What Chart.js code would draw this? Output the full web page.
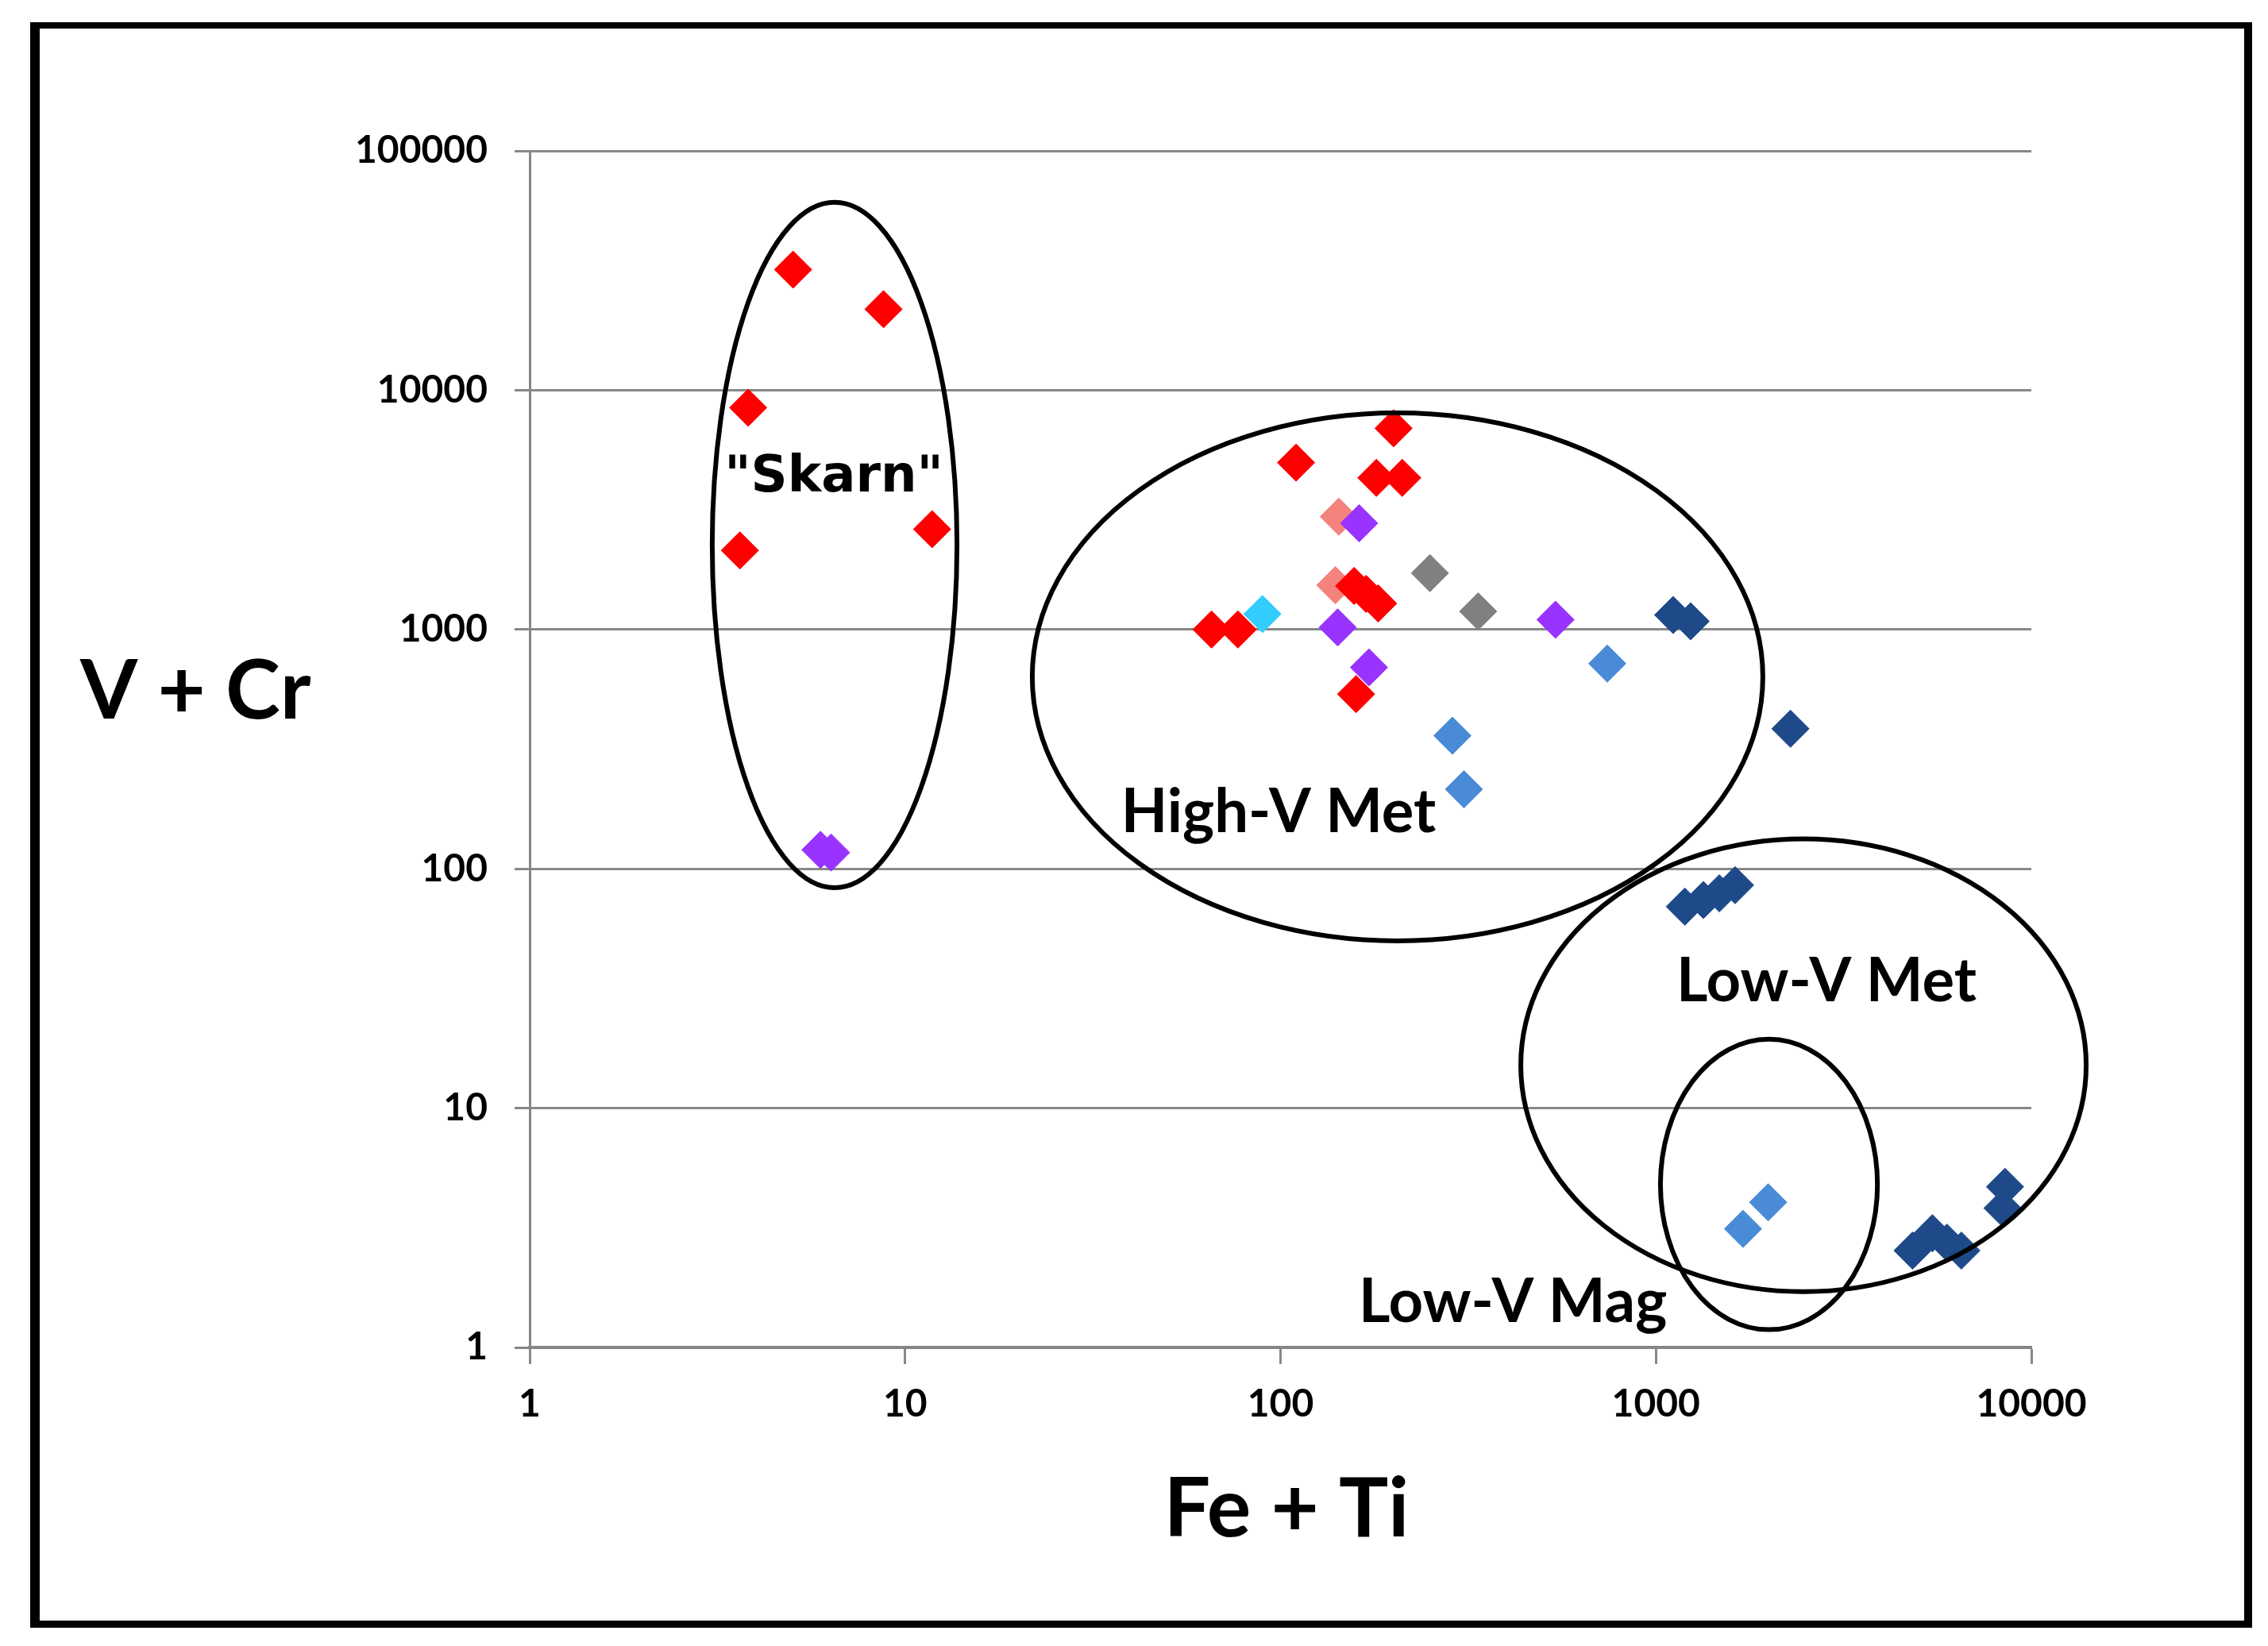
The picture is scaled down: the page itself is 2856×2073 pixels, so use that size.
<!DOCTYPE html>
<html>
<head>
<meta charset="utf-8">
<title>V + Cr vs Fe + Ti</title>
<script src="https://cdn.jsdelivr.net/npm/chart.js@4.4.1/dist/chart.umd.min.js"></script>
<style>
    html, body { margin: 0; padding: 0; background: #fff; overflow: hidden; }
    canvas { display: block; }
</style>
</head>
<body>
<canvas id="scatterChart" width="2856" height="2073"></canvas>
<script>
// Tick values of the two log axes
const xTicks = [1, 10, 100, 1000, 10000];
const yTicks = [1, 10, 100, 1000, 10000, 100000];

// Fe + Ti (x) and V + Cr (y), one pair of arrays per colour
const redX = [5.03, 8.76, 3.82, 3.63, 11.8, 110, 200, 180, 211, 157, 169, 182, 65.5, 77, 159];
const redY = [31900, 21800, 8450, 2140, 2625, 4980, 6930, 4300, 4300, 1521, 1409, 1285, 1000, 1000, 537];

const salmonX = [143, 140];
const salmonY = [2960, 1531];

const purpleX = [5.95, 6.35, 162, 142, 172, 540];
const purpleY = [120, 117, 2780, 1020, 694, 1099];

const cyanX = [89.5];
const cyanY = [1160];

const grayX = [250, 336];
const grayY = [1720, 1190];

const steelX = [742, 287, 308, 1990, 1706];
const steelY = [720, 360, 215, 4.04, 3.13];

const navyX = [1111, 1237, 2282, 1194, 1338, 1475, 1625, 4825, 5450, 5960, 6510, 8380, 8510];
const navyY = [1150, 1082, 385, 69.5, 74.1, 79, 85.4, 2.54, 3.0, 2.74, 2.54, 3.82, 4.69];

// Group outlines: centre in data units, half axes in decades
const groupNames = ['"Skarn"', 'High-V Met', 'Low-V Met', 'Low-V Mag'];
const ellipseCx = [6.49, 205, 2472, 2000];
const ellipseCy = [2254, 634, 15.1, 4.8];
const ellipseRx = [0.326, 0.973, 0.753, 0.289];
const ellipseRy = [1.432, 1.103, 0.946, 0.607];
// where each group name sits (data units, text baseline)
const labelX = [6.46, 98.8, 2846, 416];
const labelY = [3775, 142, 28, 1.28];

function toPoints(xs, ys) {
    return xs.map((x, i) => ({ x: x, y: ys[i] }));
}

function diamonds(label, xs, ys, color) {
    return {
        label: label,
        data: toPoints(xs, ys),
        pointStyle: 'rectRot',
        pointRadius: 23.5,
        pointHoverRadius: 23.5,
        backgroundColor: color,
        borderColor: color,
        borderWidth: 1
    };
}

// Frame, group outlines, group names and axis titles
const decorPlugin = {
    id: 'decor',
    beforeDraw(chart) {
        const ctx = chart.ctx;
        ctx.save();
        ctx.fillStyle = '#ffffff';
        ctx.fillRect(0, 0, chart.width, chart.height);
        ctx.fillStyle = '#000000';
        ctx.fillRect(38, 28, 12, 2022);
        ctx.fillRect(38, 28, 2798, 8);
        ctx.fillRect(2826, 28, 10, 2022);
        ctx.fillRect(38, 2041, 2798, 9);
        ctx.restore();
    },
    afterDatasetsDraw(chart) {
        const ctx = chart.ctx;
        const xs = chart.scales.x;
        const ys = chart.scales.y;
        ctx.save();
        ctx.strokeStyle = '#000000';
        ctx.lineWidth = 6;
        ellipseCx.forEach((cx, i) => {
            const px = xs.getPixelForValue(cx);
            const py = ys.getPixelForValue(ellipseCy[i]);
            const rx = xs.getPixelForValue(cx * Math.pow(10, ellipseRx[i])) - px;
            const ry = py - ys.getPixelForValue(ellipseCy[i] * Math.pow(10, ellipseRy[i]));
            ctx.beginPath();
            ctx.ellipse(px, py, rx, ry, 0, 0, 2 * Math.PI);
            ctx.stroke();
        });

        ctx.fillStyle = '#000000';
        ctx.textAlign = 'center';
        ctx.textBaseline = 'alphabetic';
        groupNames.forEach((name, i) => {
            ctx.font = i === 0 ? 'bold 64px "DejaVu Sans"' : 'bold 76px Lato';
            ctx.fillText(name, xs.getPixelForValue(labelX[i]), ys.getPixelForValue(labelY[i]));
        });
        ctx.restore();
    },
    afterDraw(chart) {
        const ctx = chart.ctx;
        ctx.save();
        ctx.fillStyle = '#000000';
        ctx.font = 'bold 104px Lato';
        ctx.textBaseline = 'alphabetic';
        ctx.textAlign = 'left';
        ctx.fillText('V + Cr', 101, 905);
        ctx.textAlign = 'center';
        ctx.fillText('Fe + Ti', 1620, 1935);
        ctx.restore();
    }
};

const tickFont = { family: 'Lato', weight: 'bold', size: 48 };

function drawChart() {
    const ctx = document.getElementById('scatterChart').getContext('2d');

    new Chart(ctx, {
        type: 'scatter',
        data: {
            datasets: [
                diamonds('Red', redX, redY, '#ff0000'),
                diamonds('Purple', purpleX, purpleY, '#9933ff'),
                diamonds('Salmon', salmonX, salmonY, '#f4837d'),
                diamonds('Cyan', cyanX, cyanY, '#33ccff'),
                diamonds('Gray', grayX, grayY, '#808080'),
                diamonds('Steel', steelX, steelY, '#4a8bd8'),
                diamonds('Navy', navyX, navyY, '#1f4a8a')
            ]
        },
        options: {
            responsive: false,
            devicePixelRatio: 1,
            animation: false,
            events: [],
            layout: {
                padding: { top: 190, right: 298, left: 0, bottom: 0 }
            },
            scales: {
                x: {
                    type: 'logarithmic',
                    min: 1,
                    max: 10000,
                    afterBuildTicks: function(scale) {
                        scale.ticks = xTicks.map(v => ({ value: v }));
                    },
                    afterFit: function(scale) {
                        scale.height = 376;
                    },
                    grid: {
                        drawOnChartArea: false,
                        drawTicks: true,
                        tickLength: 21,
                        tickWidth: 3,
                        tickColor: '#888888'
                    },
                    border: { color: '#868686', width: 4 },
                    ticks: {
                        font: tickFont,
                        color: '#000000',
                        padding: 22,
                        maxRotation: 0,
                        autoSkip: false,
                        callback: function(value) {
                            return String(value);
                        }
                    }
                },
                y: {
                    type: 'logarithmic',
                    min: 1,
                    max: 100000,
                    afterBuildTicks: function(scale) {
                        scale.ticks = yTicks.map(v => ({ value: v }));
                    },
                    afterFit: function(scale) {
                        scale.width = 667;
                    },
                    grid: {
                        color: '#888888',
                        lineWidth: 3,
                        tickLength: 19
                    },
                    border: { color: '#868686', width: 3 },
                    ticks: {
                        font: tickFont,
                        color: '#000000',
                        padding: 34,
                        autoSkip: false,
                        callback: function(value) {
                            return String(value);
                        }
                    }
                }
            },
            plugins: {
                legend: { display: false },
                tooltip: { enabled: false }
            }
        },
        plugins: [decorPlugin]
    });
}

document.addEventListener('DOMContentLoaded', function() {
    const loads = [
        document.fonts.load('bold 48px Lato'),
        document.fonts.load('bold 64px "DejaVu Sans"')
    ];
    Promise.all(loads).then(drawChart, drawChart);
});
</script>
</body>
</html>
